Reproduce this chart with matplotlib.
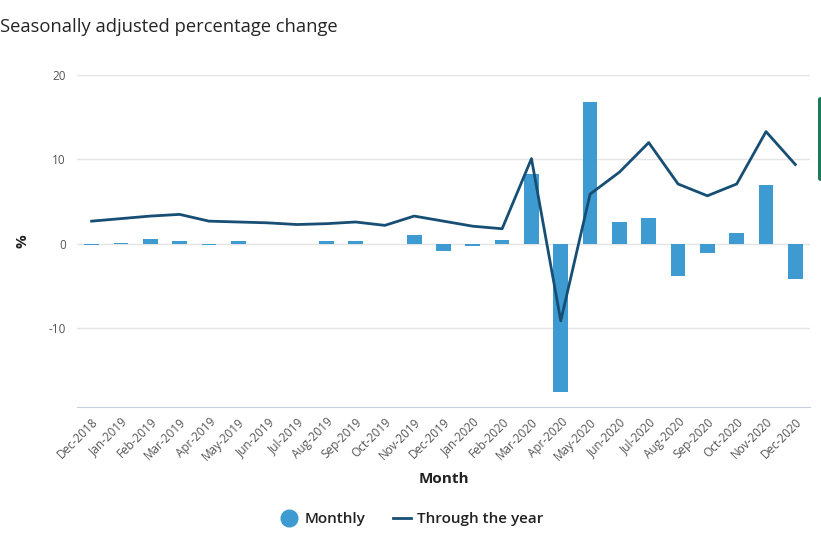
import matplotlib.pyplot as plt
import matplotlib.patches as mpatches
from matplotlib.lines import Line2D
import numpy as np

plt.rcParams['font.family'] = ['Open Sans', 'DejaVu Sans']

# Daten
months = ['Dec-2018', 'Jan-2019', 'Feb-2019', 'Mar-2019', 'Apr-2019', 'May-2019',
          'Jun-2019', 'Jul-2019', 'Aug-2019', 'Sep-2019', 'Oct-2019', 'Nov-2019',
          'Dec-2019', 'Jan-2020', 'Feb-2020', 'Mar-2020', 'Apr-2020', 'May-2020',
          'Jun-2020', 'Jul-2020', 'Aug-2020', 'Sep-2020', 'Oct-2020', 'Nov-2020',
          'Dec-2020']
monthly = [-0.1, 0.1, 0.6, 0.3, -0.1, 0.3, 0.0, 0.0, 0.4, 0.3, 0.0, 1.1,
           -0.8, -0.3, 0.5, 8.3, -17.5, 16.8, 2.6, 3.1, -3.8, -1.1, 1.3, 7.0, -4.1]
through_year = [2.7, 3.0, 3.3, 3.5, 2.7, 2.6, 2.5, 2.3, 2.4, 2.6, 2.2, 3.3,
                2.7, 2.1, 1.8, 10.1, -9.1, 5.9, 8.5, 12.0, 7.1, 5.7, 7.1, 13.3, 9.4]
y_ticks = [-10, 0, 10, 20]

bar_color = '#3d9bd1'
line_color = '#164e74'
grey = '#555555'

fig = plt.figure(figsize=(8.21, 5.5), dpi=100)
ax = fig.add_axes([77 / 821, 1 - 407 / 550, 733 / 821, 332 / 550])

x = np.arange(len(months))
ax.bar(x, monthly, width=0.5, color=bar_color, zorder=2)
ax.plot(x, through_year, color=line_color, linewidth=2, zorder=3)

ax.set_xlim(-0.5, len(months) - 0.5)
ax.set_ylim(-19.3, 20)
ax.set_yticks(y_ticks)
ax.set_yticklabels([str(v) for v in y_ticks], fontsize=8.5, color=grey)
ax.set_xticks(x)
ax.set_xticklabels(months, rotation=45, ha='right', rotation_mode='anchor',
                   fontsize=8.5, color=grey)
ax.tick_params(axis='both', length=0, pad=8)
ax.tick_params(axis='x', pad=6)

# Gitterlinien
ax.grid(axis='y', color='#e4e4e4', linewidth=1, zorder=0)
ax.set_axisbelow(True)
for s in ['top', 'right', 'left']:
    ax.spines[s].set_visible(False)
ax.spines['bottom'].set_color('#c8d0e0')

ax.set_xlabel('Month', fontsize=11, fontweight='bold', color='#222222', labelpad=7)
ax.set_ylabel('%', fontsize=11, fontweight='bold', color='#222222', labelpad=14)

fig.text(0.0, 1 - 27 / 550, 'Seasonally adjusted percentage change',
         fontsize=13.2, color='#252525', va='center', ha='left')

# Legende
handles = [Line2D([0], [0], marker='o', linestyle='none', markersize=12,
                  markerfacecolor=bar_color, markeredgecolor=bar_color),
           Line2D([0], [0], color=line_color, linewidth=2)]
fig.legend(handles, ['Monthly', 'Through the year'], loc='center',
           bbox_to_anchor=(412 / 821, 1 - 519 / 550), ncol=2, frameon=False,
           prop={'size': 11, 'weight': 'semibold'}, handlelength=1.2,
           handletextpad=0.4, columnspacing=1.8, labelcolor='#222222')

# gruener Rand rechts
fig.patches.append(mpatches.FancyBboxPatch((818 / 821, 1 - 181 / 550), 6 / 821, 84 / 550,
                                           boxstyle='round,pad=0,rounding_size=0.004',
                                           transform=fig.transFigure, facecolor='#1f7a5c',
                                           edgecolor='none'))

fig.savefig('out.png', dpi=100)
